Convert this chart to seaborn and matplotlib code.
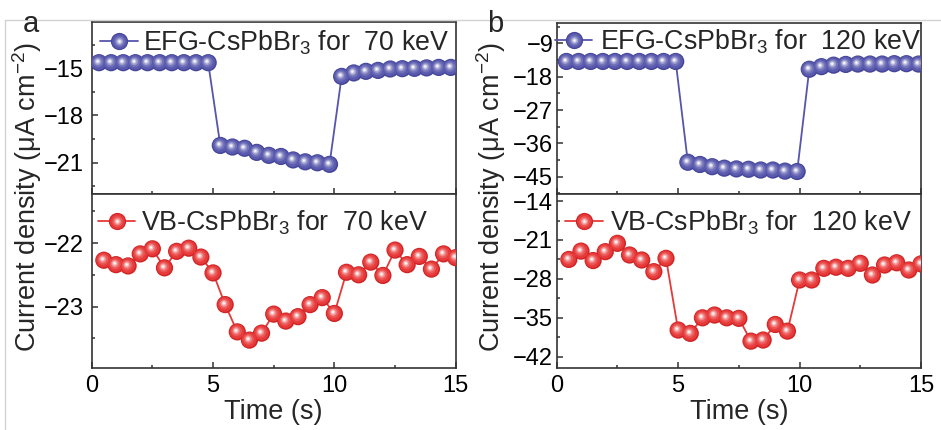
import matplotlib
matplotlib.use("Agg")
import matplotlib.pyplot as plt
import seaborn as sns
from matplotlib.transforms import ScaledTranslation
from matplotlib.lines import Line2D
from matplotlib.legend_handler import HandlerTuple
from matplotlib.ticker import MultipleLocator, FixedLocator
from matplotlib.colors import to_rgb

# ---- data -------------------------------------------------------------
time_efg70 = [0.3, 0.8, 1.3, 1.8, 2.3, 2.8, 3.3, 3.8, 4.3, 4.8,
              5.3, 5.8, 6.3, 6.8, 7.3, 7.8, 8.3, 8.8, 9.3, 9.8,
              10.3, 10.8, 11.3, 11.8, 12.3, 12.8, 13.3, 13.8, 14.3, 14.8]
efg_70kev = [-14.65, -14.65, -14.65, -14.65, -14.65, -14.65, -14.65, -14.65, -14.65, -14.65,
             -19.90, -20.00, -20.08, -20.34, -20.53, -20.60, -20.82, -20.94, -21.00, -21.10,
             -15.52, -15.30, -15.20, -15.14, -15.05, -15.03, -15.01, -14.98, -14.95, -14.95]

time_efg120 = [0.4, 0.9, 1.4, 1.9, 2.4, 2.9, 3.4, 3.9, 4.4, 4.9,
               5.4, 5.9, 6.4, 6.9, 7.4, 7.9, 8.4, 8.9, 9.4, 9.9,
               10.4, 10.9, 11.4, 11.9, 12.4, 12.9, 13.4, 13.9, 14.4, 14.9]
efg_120kev = [-13.9, -13.9, -13.9, -13.9, -13.9, -13.9, -13.9, -13.9, -13.9, -13.9,
              -41.1, -41.7, -42.3, -42.7, -42.9, -43.0, -43.2, -43.2, -43.5, -43.6,
              -16.0, -15.3, -14.9, -14.7, -14.6, -14.6, -14.6, -14.5, -14.5, -14.6]

time_vb = [0.5, 1.0, 1.5, 2.0, 2.5, 3.0, 3.5, 4.0, 4.5, 5.0,
           5.5, 6.0, 6.5, 7.0, 7.5, 8.0, 8.5, 9.0, 9.5, 10.0,
           10.5, 11.0, 11.5, 12.0, 12.5, 13.0, 13.5, 14.0, 14.5, 15.0]
vb_70kev = [-22.27, -22.34, -22.36, -22.17, -22.09, -22.39, -22.13, -22.08, -22.22, -22.47,
            -22.97, -23.40, -23.53, -23.42, -23.12, -23.23, -23.16, -22.97, -22.86, -23.11,
            -22.46, -22.50, -22.30, -22.51, -22.11, -22.34, -22.21, -22.41, -22.17, -22.23]
vb_120kev = [-24.5, -23.0, -24.7, -23.1, -21.6, -23.7, -24.6, -26.7, -24.3, -37.2,
             -37.8, -35.0, -34.5, -35.0, -35.1, -39.2, -39.0, -36.2, -37.4, -28.2,
             -28.2, -26.1, -25.9, -26.1, -25.2, -27.3, -25.5, -25.1, -26.4, -25.3]

labels = ["EFG-CsPbBr$_3$ for  70 keV", "VB-CsPbBr$_3$ for  70 keV",
          "EFG-CsPbBr$_3$ for  120 keV", "VB-CsPbBr$_3$ for  120 keV"]
x_ticks = [0, 5, 10, 15]

# ---- style ------------------------------------------------------------
sns.set_style("ticks")
plt.rcParams["font.family"] = ["Liberation Sans", "DejaVu Sans"]
plt.rcParams["mathtext.fontset"] = "custom"
plt.rcParams["mathtext.rm"] = "Liberation Sans"
plt.rcParams["mathtext.it"] = "Liberation Sans"
plt.rcParams["mathtext.default"] = "regular"

BLUE = dict(line="#5555ad", base="#45459a", mid="#5a5aae", hi="#ffffff")
RED = dict(line="#e63a3a", base="#cf2525", mid="#e83a3a", hi="#ffffff")

W, H = 941, 430
fig = plt.figure(figsize=(W / 100, H / 100), dpi=100)

SPINE = "#333333"
BALL_MS = 12.4            # marker diameter in points
BALL_S = BALL_MS ** 2     # scatter area in pt^2
# (scale, blend toward highlight, offset toward upper-left in px)
SHADE = [(0.86, 0.00, 0.3), (0.62, 0.15, 0.8), (0.42, 0.40, 1.1),
         (0.26, 0.70, 1.3), (0.13, 0.95, 1.4)]


def mix(c, w, f):
    c, w = to_rgb(c), to_rgb(w)
    return tuple(a + (b - a) * f for a, b in zip(c, w))


def draw_balls(ax, x, y, pal):
    """Shaded spheres: dark rim, body, bright specular spot."""
    sns.scatterplot(x=x, y=y, ax=ax, s=BALL_S, color=pal["base"],
                    edgecolor="none", linewidth=0, legend=False, zorder=3)
    for k, f, off in SHADE:
        sns.scatterplot(x=x, y=y, ax=ax, s=BALL_S * k * k,
                        color=mix(pal["mid"], pal["hi"], f),
                        edgecolor="none", linewidth=0, legend=False, zorder=3)
        coll = ax.collections[-1]
        shift = ScaledTranslation(-off / 100, off / 100, fig.dpi_scale_trans)
        coll.set_offset_transform(ax.transData + shift)


def legend_handle(pal):
    hs = [Line2D([], [], color=pal["line"], lw=1.3, marker="o", markersize=BALL_MS,
                 markerfacecolor=pal["base"], markeredgecolor="none")]
    for k, f, _ in SHADE:
        hs.append(Line2D([], [], lw=0, marker="o", markersize=BALL_MS * k,
                         markerfacecolor=mix(pal["mid"], pal["hi"], f),
                         markeredgecolor="none"))
    return tuple(hs)


def px_axes(x0, y0, x1, y1):
    return fig.add_axes([x0 / W, 1 - y1 / H, (x1 - x0) / W, (y1 - y0) / H])


def style_axes(ax, ylim, yticks, yminor, show_x, ypad):
    ax.set_xlim(0, 15)
    ax.set_ylim(*ylim)
    ax.xaxis.set_major_locator(FixedLocator(x_ticks))
    ax.xaxis.set_minor_locator(MultipleLocator(2.5))
    ax.yaxis.set_major_locator(FixedLocator(yticks))
    ax.yaxis.set_minor_locator(MultipleLocator(yminor))
    ax.tick_params(which="both", direction="in", top=False, right=False,
                   color=SPINE, width=1.1, labelsize=17, labelcolor="black")
    ax.tick_params(which="major", length=4.5)
    ax.tick_params(which="minor", length=2.5)
    ax.tick_params(axis="y", pad=ypad)
    ax.tick_params(axis="x", pad=5, labelbottom=show_x)
    for sp in ax.spines.values():
        sp.set_linewidth(1.2)
        sp.set_color(SPINE)
    ax.set_xlabel("")
    ax.set_ylabel("")


def add_legend(ax, pal, text, fx, fy, tpad):
    ax.legend(handles=[legend_handle(pal)], labels=[text],
              handler_map={tuple: HandlerTuple(ndivide=1)},
              loc="center left", bbox_to_anchor=(fx, fy), frameon=False,
              borderpad=0, borderaxespad=0, handlelength=1.4,
              handletextpad=tpad, fontsize=19.3)


panels = [
    dict(x0=91.7, x1=455.7, top=21.7,
         top_t=time_efg70, top_v=efg_70kev, top_lim=(-23.0, -12.05),
         top_ticks=[-15, -18, -21], top_minor=1.5,
         bot_v=vb_70kev, bot_lim=(-23.97, -21.23), bot_ticks=[-22, -23], bot_minor=0.5,
         lab_top=labels[0], lab_bot=labels[1], ypad=5.5,
         leg_top=(0.023, 0.877), leg_bot=(0.017, 0.835), tpad=0.22,
         letter="a", letter_x=31, ylab_x=27),
    dict(x0=556.7, x1=921.0, top=22.7,
         top_t=time_efg120, top_v=efg_120kev, top_lim=(-49.75, -3.44),
         top_ticks=[-9, -18, -27, -36, -45], top_minor=4.5,
         bot_v=vb_120kev, bot_lim=(-44.03, -12.78), bot_ticks=[-14, -21, -28, -35, -42], bot_minor=3.5,
         lab_top=labels[2], lab_bot=labels[3], ypad=2.5,
         leg_top=(-0.005, 0.888), leg_bot=(0.023, 0.835), tpad=0.28,
         letter="b", letter_x=495, ylab_x=491),
]

MID_Y, BOT_Y = 194.3, 368.0

for p in panels:
    ax_t = px_axes(p["x0"], p["top"], p["x1"], MID_Y)
    ax_b = px_axes(p["x0"], MID_Y, p["x1"], BOT_Y)

    sns.lineplot(x=p["top_t"], y=p["top_v"], ax=ax_t, color=BLUE["line"], lw=1.3,
                 estimator=None, sort=False, legend=False, zorder=2)
    draw_balls(ax_t, p["top_t"], p["top_v"], BLUE)
    style_axes(ax_t, p["top_lim"], p["top_ticks"], p["top_minor"], False, p["ypad"])
    add_legend(ax_t, BLUE, p["lab_top"], *p["leg_top"], p["tpad"])

    sns.lineplot(x=time_vb, y=p["bot_v"], ax=ax_b, color=RED["line"], lw=1.3,
                 estimator=None, sort=False, legend=False, zorder=2)
    draw_balls(ax_b, time_vb, p["bot_v"], RED)
    style_axes(ax_b, p["bot_lim"], p["bot_ticks"], p["bot_minor"], True, p["ypad"])
    add_legend(ax_b, RED, p["lab_bot"], *p["leg_bot"], p["tpad"])

    fig.text(p["letter_x"] / W, 1 - 32 / H, p["letter"], fontsize=21,
             ha="center", va="baseline")
    fig.text(p["ylab_x"] / W, 1 - 197 / H, "Current density (μA cm$^{-2}$)",
             fontsize=19.5, rotation=90, ha="center", va="center")
    fig.text((p["x0"] + p["x1"]) / 2 / W, 1 - 412 / H, "Time (s)",
             fontsize=19.5, ha="center", va="center")

# light page border around the figure
fig.add_artist(Line2D([5 / W, 1], [1 - 20 / H, 1 - 20 / H], transform=fig.transFigure,
                      color="#d2d2d2", lw=1))
fig.add_artist(Line2D([5 / W, 5 / W], [0, 1 - 20 / H], transform=fig.transFigure,
                      color="#d2d2d2", lw=1))

fig.savefig("out.png", dpi=100, facecolor="white")
